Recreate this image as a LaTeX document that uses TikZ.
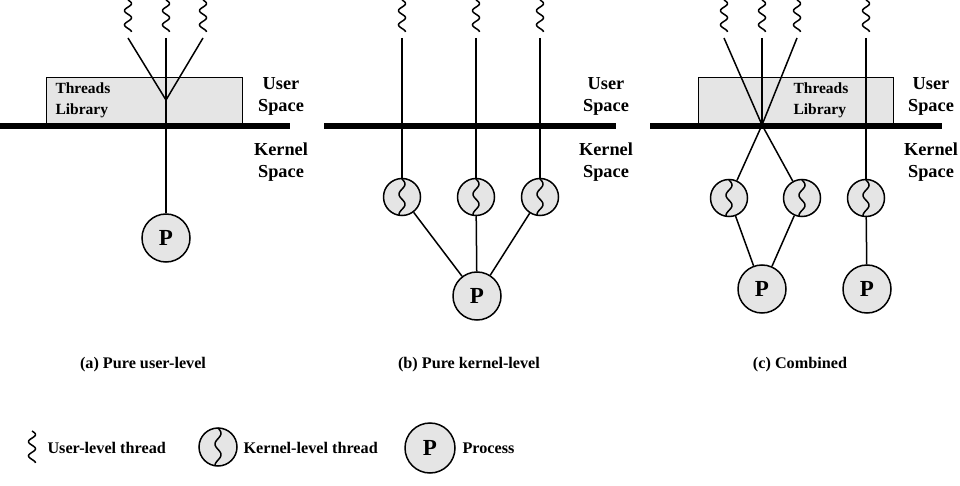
\documentclass[tikz,border=0pt]{standalone}
\usepackage{fontspec}
\setmainfont{Liberation Serif}
\definecolor{fillgray}{gray}{0.9}
\tikzset{
  thin line/.style={line width=1.5pt, black},
  kernel line/.style={line width=6pt, black},
  libbox/.style={draw, line width=1.3pt, fill=fillgray},
  proc/.style={circle, draw, line width=1.5pt, fill=fillgray, minimum size=48pt, inner sep=0pt, font=\fontsize{23}{23}\selectfont\bfseries},
  kthr/.style={circle, draw, line width=1.5pt, fill=fillgray, minimum size=37pt, inner sep=0pt},
  spacelabel/.style={align=center, font=\fontsize{18.3}{22}\selectfont\bfseries},
  liblabel/.style={align=left, anchor=west, font=\fontsize{15.5}{21}\selectfont\bfseries},
  caption/.style={font=\fontsize{16.2}{18}\selectfont\bfseries},
}
\newcommand\usquig[3]{% x, ytop, length
  \draw[thin line] plot[domain=0:1, samples=50, smooth] ({#1+3.5*sin(810*\x)}, {#2+#3*\x});}
\newcommand\ksquig[4]{% x, ytop, length, amplitude
  \draw[thin line] plot[domain=0:1, samples=50, smooth] ({#1+#4*sin(640*\x)}, {#2+#3*\x});}
\begin{document}
\begin{tikzpicture}[x=1pt, y=-1pt]
\useasboundingbox (0,0) rectangle (960,486);

% ---------------- (a) ----------------
\node[libbox, minimum width=196pt, minimum height=47pt, anchor=north west] (boxa) at (46,77) {};
\node[liblabel] (liba) at (52,100) {Threads\\Library};
\coordinate (ta1) at (128,38);
\coordinate (ta2) at (166,38);
\coordinate (ta3) at (203,38);
\coordinate (ma) at (166,100);
\usquig{128}{0}{32}
\usquig{166}{0}{32}
\usquig{203}{0}{32}
\node[proc] (pa) at (166,238) {P};
\draw[thin line] (ta1) -- (ma);
\draw[thin line] (ta3) -- (ma);
\draw[thin line] (ta2) -- (pa);
\coordinate (la0) at (0,126);
\coordinate (la1) at (290,126);
\draw[kernel line] (la0) -- (la1);
\node[spacelabel] (usera) at (281,96) {User\\Space};
\node[spacelabel] (kerna) at (281,162) {Kernel\\Space};

% ---------------- (b) ----------------
\coordinate (tb1) at (402,38);
\coordinate (tb2) at (476,38);
\coordinate (tb3) at (540,38);
\usquig{402}{0}{32}
\usquig{476}{0}{32}
\usquig{540}{0}{32}
\node[kthr] (kb1) at (402,197) {};
\node[kthr] (kb2) at (476,197) {};
\node[kthr] (kb3) at (540,197) {};
\ksquig{402}{179}{36}{3}
\ksquig{476}{179}{36}{3}
\ksquig{540}{179}{36}{3}
\node[proc] (pb) at (477,296) {P};
\draw[thin line] (tb1) -- (kb1);
\draw[thin line] (tb2) -- (kb2);
\draw[thin line] (tb3) -- (kb3);
\draw[thin line] (kb1) -- (pb);
\draw[thin line] (kb2) -- (pb);
\draw[thin line] (kb3) -- (pb);
\coordinate (lb0) at (324,126);
\coordinate (lb1) at (616,126);
\draw[kernel line] (lb0) -- (lb1);
\node[spacelabel] (userb) at (606,96) {User\\Space};
\node[spacelabel] (kernb) at (606,162) {Kernel\\Space};

% ---------------- (c) ----------------
\node[libbox, minimum width=195pt, minimum height=47pt, anchor=north west] (boxc) at (698,77) {};
\node[liblabel] (libc) at (790,100) {Threads\\Library};
\coordinate (tc1) at (724,38);
\coordinate (tc2) at (762,38);
\coordinate (tc3) at (797,38);
\coordinate (tc4) at (866,38);
\coordinate (xc) at (762,125);
\usquig{724}{0}{32}
\usquig{762}{0}{32}
\usquig{797}{0}{32}
\usquig{866}{0}{32}
\node[kthr] (kc1) at (729,198) {};
\node[kthr] (kc2) at (802,198) {};
\node[kthr] (kc3) at (866,198) {};
\ksquig{729}{180}{36}{3}
\ksquig{802}{180}{36}{3}
\ksquig{866}{180}{36}{3}
\node[proc] (pc1) at (762,289) {P};
\node[proc] (pc2) at (867,289) {P};
\draw[thin line] (tc1) -- (xc);
\draw[thin line] (tc2) -- (xc);
\draw[thin line] (tc3) -- (xc);
\draw[thin line] (xc) -- (kc1);
\draw[thin line] (xc) -- (kc2);
\draw[thin line] (kc1) -- (pc1);
\draw[thin line] (kc2) -- (pc1);
\draw[thin line] (tc4) -- (kc3);
\draw[thin line] (kc3) -- (pc2);
\coordinate (lc0) at (650,126);
\coordinate (lc1) at (942,126);
\draw[kernel line] (lc0) -- (lc1);
\node[spacelabel] (userc) at (931,96) {User\\Space};
\node[spacelabel] (kernc) at (931,162) {Kernel\\Space};

% ---------------- captions ----------------
\node[caption] (capa) at (143,365) {(a) Pure user-level};
\node[caption] (capb) at (469,365) {(b) Pure kernel-level};
\node[caption] (capc) at (800,365) {(c) Combined};

% ---------------- legend ----------------
\usquig{32}{431}{32}
\node[caption, anchor=west] (legu) at (44,448) {User-level thread};
\node[kthr, minimum size=38pt] (legk) at (218,447) {};
\ksquig{218}{428}{38}{3}
\node[caption, anchor=west] (legkt) at (240,448) {Kernel-level thread};
\node[proc, minimum size=50pt] (legp) at (430,448) {P};
\node[caption, anchor=west] (legpt) at (459,448) {Process};
\end{tikzpicture}
\end{document}
